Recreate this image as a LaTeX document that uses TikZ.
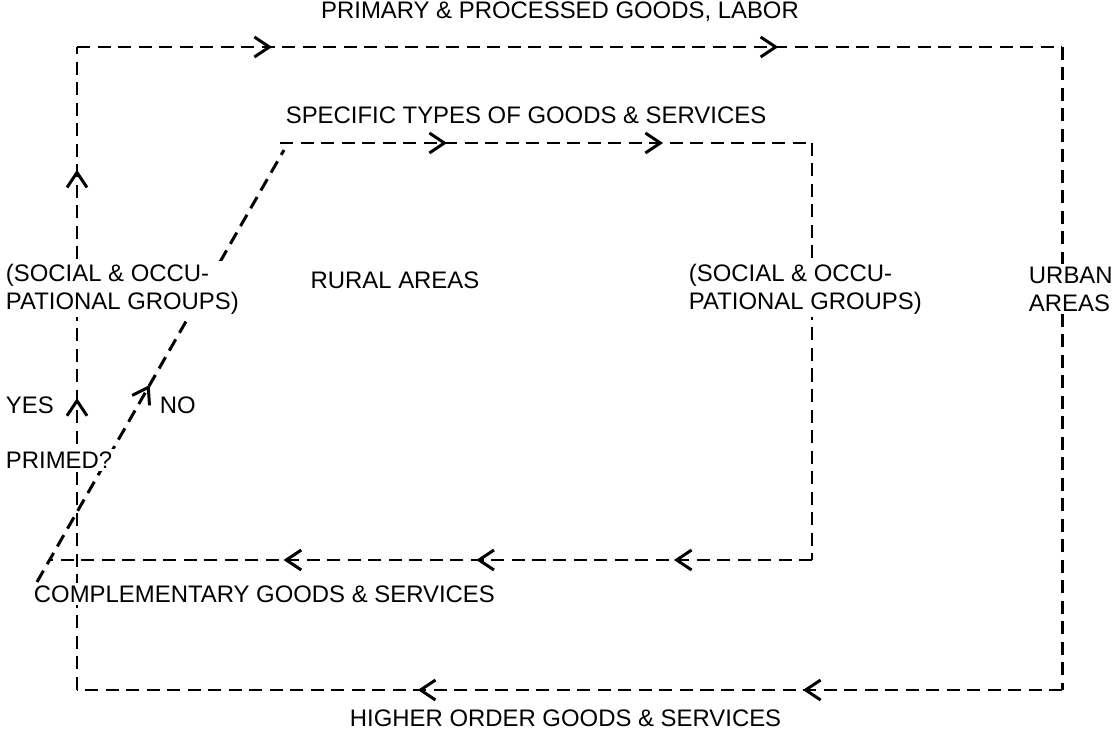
\documentclass[tikz,border=0pt]{standalone}
\usepackage{fontspec}
\setmainfont{Liberation Sans}
\usetikzlibrary{arrows.meta, decorations.markings}

\begin{document}
\begin{tikzpicture}[x=0.2mm, y=-0.2mm,
  flow/.style={line width=1.7pt, dash pattern=on 2.6mm off 1.5mm},
  chev at/.style={postaction={decorate, decoration={markings,
    mark=at position #1 with {\arrow[line width=1.7pt]{Straight Barb[length=3mm, width=4mm]}}}}},
  lbl/.style={node font=\fontsize{13.6}{16}\selectfont, fill=white, inner sep=1.5pt, align=left}]
\useasboundingbox (0, 0) rectangle (1115, 736);

% corners of the two loops
\coordinate (otl) at (77, 47);
\coordinate (otr) at (1062, 47);
\coordinate (obr) at (1062, 690);
\coordinate (obl) at (77, 690);
\coordinate (itl) at (280, 143);
\coordinate (itr) at (812, 143);
\coordinate (ibr) at (812, 560);
\coordinate (ibl) at (49, 560);
\coordinate (dlow) at (37, 582);
\coordinate (dhigh) at (284, 150);

% outer loop (urban)
\draw [flow, chev at=0.198, chev at=0.712] (otl) -- (otr);
\draw [flow] (otr) -- (obr);
\draw [flow, chev at=0.263, chev at=0.654] (obr) -- (obl);
\draw [flow, chev at=0.454, chev at=0.809] (obl) -- (otl);
% inner loop (rural)
\draw [flow, chev at=0.314, chev at=0.72] (itl) -- (itr);
\draw [flow] (itr) -- (ibr);
\draw [flow, chev at=0.181, chev at=0.44, chev at=0.6925] (ibr) -- (ibl);
\draw [flow, chev at=0.456] (dlow) -- (dhigh);

\node [lbl] (primary) at (560, 12) {PRIMARY \& PROCESSED GOODS, LABOR};
\node [lbl] (specific) at (526, 115) {SPECIFIC TYPES OF GOODS \& SERVICES};
\node [lbl, anchor=west] (socleft) at (3, 289) {(SOCIAL \& OCCU-\\PATIONAL GROUPS)};
\node [lbl] (rural) at (395, 280) {RURAL AREAS};
\node [lbl, anchor=west] (socright) at (686, 289) {(SOCIAL \& OCCU-\\PATIONAL GROUPS)};
\node [lbl, anchor=west] (urban) at (1026, 289) {URBAN\\AREAS};
\node [lbl, anchor=west] (yes) at (3, 405) {YES};
\node [lbl, anchor=west] (no) at (157, 405) {NO};
\node [lbl, anchor=west] (primed) at (3, 460) {PRIMED?};
\node [lbl, anchor=west] (compl) at (31, 594) {COMPLEMENTARY GOODS \& SERVICES};
\node [lbl, anchor=west] (higher) at (347, 718) {HIGHER ORDER GOODS \& SERVICES};
\end{tikzpicture}
\end{document}
